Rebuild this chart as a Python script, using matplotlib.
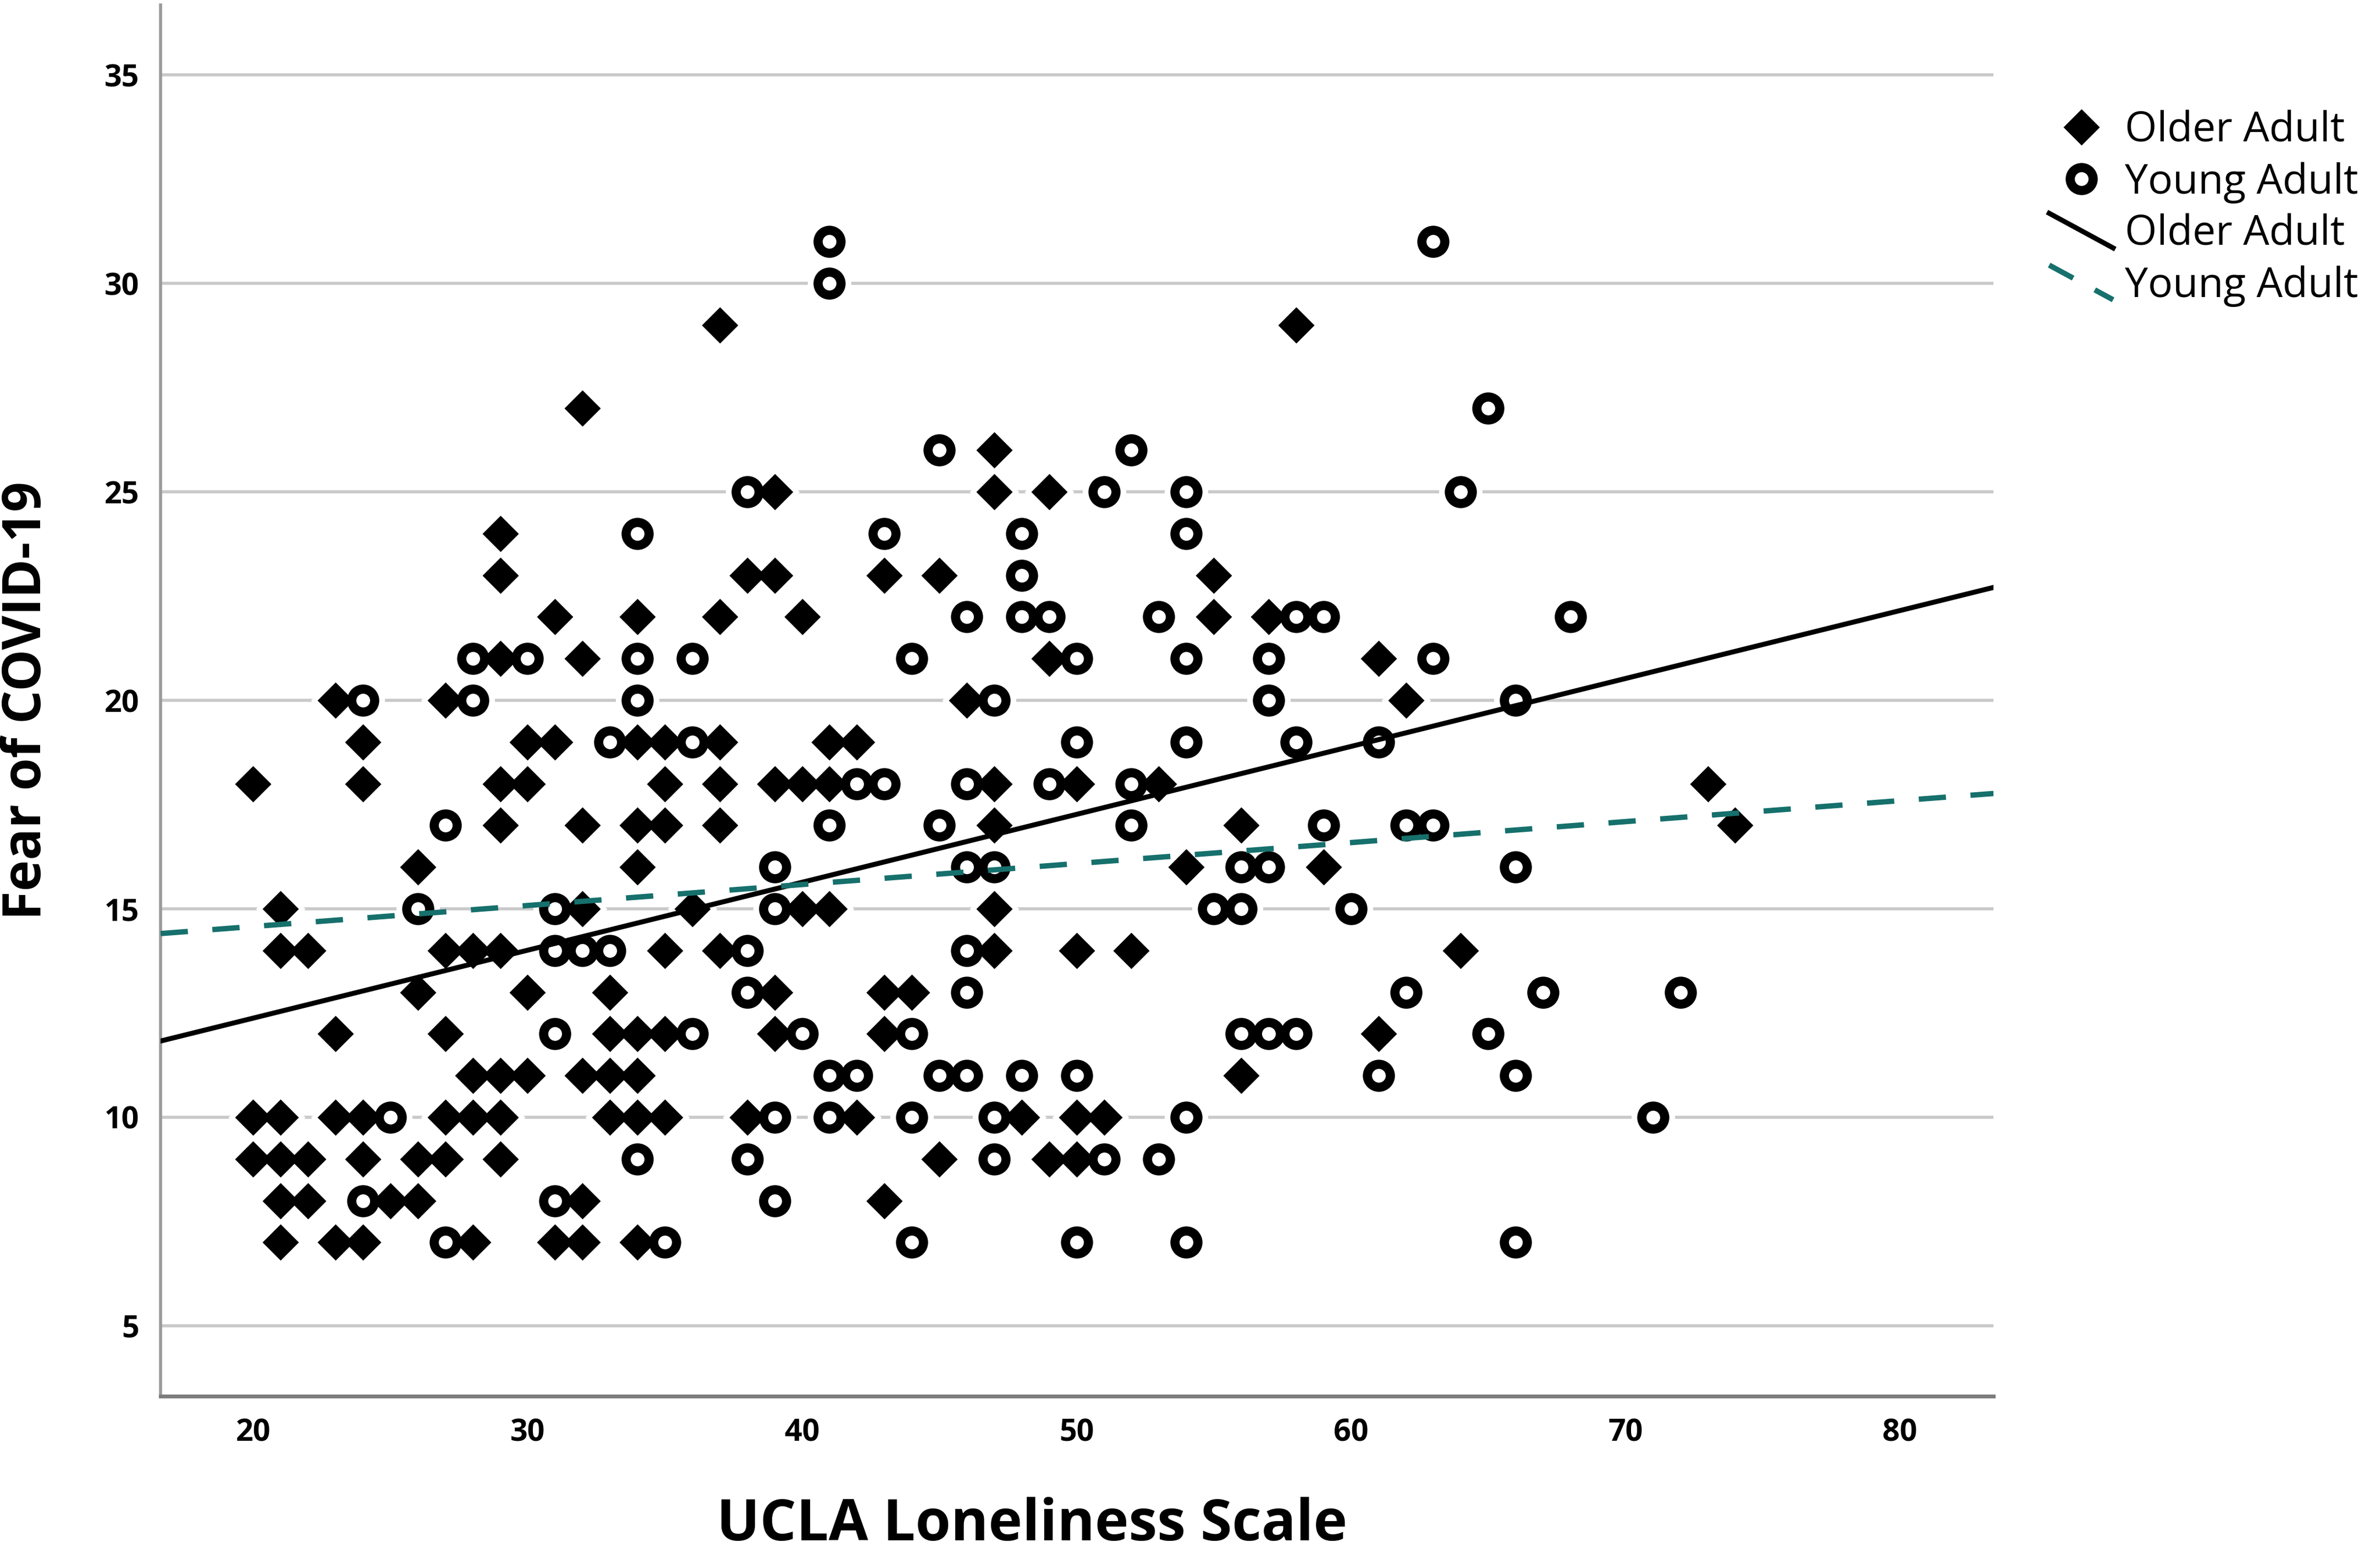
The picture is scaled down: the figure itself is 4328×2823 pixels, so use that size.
import numpy as np
import matplotlib
matplotlib.use("Agg")
import matplotlib.pyplot as plt
from matplotlib.lines import Line2D
from matplotlib.legend_handler import HandlerBase

plt.rcParams['font.family'] = ['Open Sans', 'DejaVu Sans']

# Older Adult scatter (UCLA loneliness, fear of COVID-19)
old_x = [37, 58,
         32,
         47,
         39, 47, 49,
         29,
         29, 38, 39, 43, 45, 55,
         31, 34, 37, 40, 55, 57,
         29, 32, 49, 61,
         23, 27, 46, 62,
         24, 30, 31, 34, 35, 37, 41, 42,
         20, 24, 29, 30, 35, 37, 39, 40, 41, 47, 50, 53, 73,
         29, 32, 34, 35, 37, 47, 56, 74,
         26, 34, 54, 59,
         21, 32, 36, 40, 41, 47,
         21, 22, 27, 28, 29, 35, 37, 47, 50, 52, 64,
         26, 30, 33, 39, 43, 44,
         23, 27, 33, 34, 35, 39, 43, 61,
         28, 29, 30, 32, 33, 34, 56,
         20, 21, 23, 24, 27, 28, 29, 33, 34, 35, 38, 42, 48, 50, 51,
         20, 21, 22, 24, 26, 27, 29, 45, 49, 50,
         21, 22, 25, 26, 32, 43,
         21, 23, 24, 28, 31, 32, 34]
old_y = ([29] * 2 + [27] * 1 + [26] * 1 + [25] * 3 + [24] * 1 + [23] * 6 +
         [22] * 6 + [21] * 4 + [20] * 4 + [19] * 8 + [18] * 13 + [17] * 8 +
         [16] * 4 + [15] * 6 + [14] * 11 + [13] * 6 + [12] * 8 + [11] * 7 +
         [10] * 15 + [9] * 10 + [8] * 6 + [7] * 7)

# Young Adult scatter
young_x = [41, 63,
           41,
           65,
           45, 52,
           38, 51, 54, 64,
           34, 43, 48, 54,
           48,
           46, 48, 49, 53, 58, 59, 68,
           28, 30, 34, 36, 44, 50, 54, 57, 63,
           24, 28, 34, 47, 57, 66,
           33, 36, 50, 54, 58, 61,
           42, 43, 46, 49, 52,
           27, 41, 45, 52, 59, 62, 63,
           39, 46, 47, 56, 57, 66,
           26, 31, 39, 55, 56, 60,
           31, 32, 33, 38, 46,
           38, 46, 62, 67, 72,
           31, 36, 40, 44, 56, 57, 58, 65,
           41, 42, 45, 46, 48, 50, 61, 66,
           25, 39, 41, 44, 47, 54, 71,
           34, 38, 47, 51, 53,
           24, 31, 39,
           27, 35, 44, 50, 54, 66]
young_y = ([31] * 2 + [30] * 1 + [27] * 1 + [26] * 2 + [25] * 4 + [24] * 4 +
           [23] * 1 + [22] * 7 + [21] * 9 + [20] * 6 + [19] * 6 + [18] * 5 +
           [17] * 7 + [16] * 6 + [15] * 6 + [14] * 5 + [13] * 5 + [12] * 8 +
           [11] * 8 + [10] * 7 + [9] * 5 + [8] * 3 + [7] * 6)

# fit lines (intercept, slope) as drawn in the figure
old_fit = (9.12, 0.1629)
young_fit = (13.57, 0.0503)

x_ticks = [20, 30, 40, 50, 60, 70, 80]
y_ticks = [5, 10, 15, 20, 25, 30, 35]

teal = '#16706c'


class HandlerDiag(HandlerBase):
    # SPSS style legend key: a short descending diagonal
    def create_artists(self, legend, orig_handle, xdescent, ydescent,
                       width, height, fontsize, trans):
        yc = -ydescent + height / 2
        dy = 0.6 * height
        line = Line2D([-xdescent, -xdescent + width], [yc + dy, yc - dy])
        self.update_prop(line, orig_handle, legend)
        line.set_transform(trans)
        return [line]


fig = plt.figure(figsize=(43.28, 28.23), dpi=100)
ax = fig.add_axes([0.0675, 0.1008, 0.7701, 0.8961])
ax.set_xlim(16.63, 83.41)
ax.set_ylim(3.305, 36.68)

ax.set_axisbelow(True)
ax.yaxis.grid(True, color='#c9c9c9', lw=4)
ax.xaxis.grid(False)

# white halos cut the gridlines around the points
ax.plot(old_x, old_y, 'D', ms=46, color='white', mec='none', zorder=2)
ax.plot(young_x, young_y, 'o', ms=57, color='white', mec='none', zorder=2)

h_old, = ax.plot(old_x, old_y, 'D', ms=34, color='black', mec='none',
                 zorder=3, label='Older Adult')
h_young, = ax.plot(young_x, young_y, 'o', ms=30, mfc='white', mec='black',
                   mew=12, zorder=3, label='Young Adult')

xs = np.array(ax.get_xlim())
l_old, = ax.plot(xs, old_fit[0] + old_fit[1] * xs, color='black', lw=6.5,
                 zorder=4, label='Older Adult')
l_young, = ax.plot(xs, young_fit[0] + young_fit[1] * xs, color=teal, lw=7,
                   ls=(0, (5.1, 4.6)), zorder=4, label='Young Adult')

for s in ['top', 'right']:
    ax.spines[s].set_visible(False)
ax.spines['left'].set_color('#9a9a9a')
ax.spines['left'].set_linewidth(4)
ax.spines['bottom'].set_color('#7c7c7c')
ax.spines['bottom'].set_linewidth(5)

ax.set_xticks(x_ticks)
ax.set_yticks(y_ticks)
ax.tick_params(length=0, labelsize=40, pad=28)
for lab in ax.get_xticklabels() + ax.get_yticklabels():
    lab.set_fontweight('bold')

ax.set_xlabel('UCLA Loneliness Scale', fontsize=75, fontweight='bold')
ax.set_ylabel('Fear of COVID-19', fontsize=69, fontweight='bold')
ax.xaxis.set_label_coords(0.4754, -0.0721)
ax.yaxis.set_label_coords(-0.0586, 0.5)

fig.legend([h_old, h_young, l_old, l_young],
           ['Older Adult', 'Young Adult', 'Older Adult', 'Young Adult'],
           handler_map={l_old: HandlerDiag(), l_young: HandlerDiag()},
           loc='upper left', bbox_to_anchor=(0.861, 0.929), frameon=False,
           fontsize=54, handlelength=1.55, handletextpad=0.29,
           labelspacing=0.25, borderpad=0, borderaxespad=0, numpoints=1)

fig.savefig('out.png', dpi=100)
